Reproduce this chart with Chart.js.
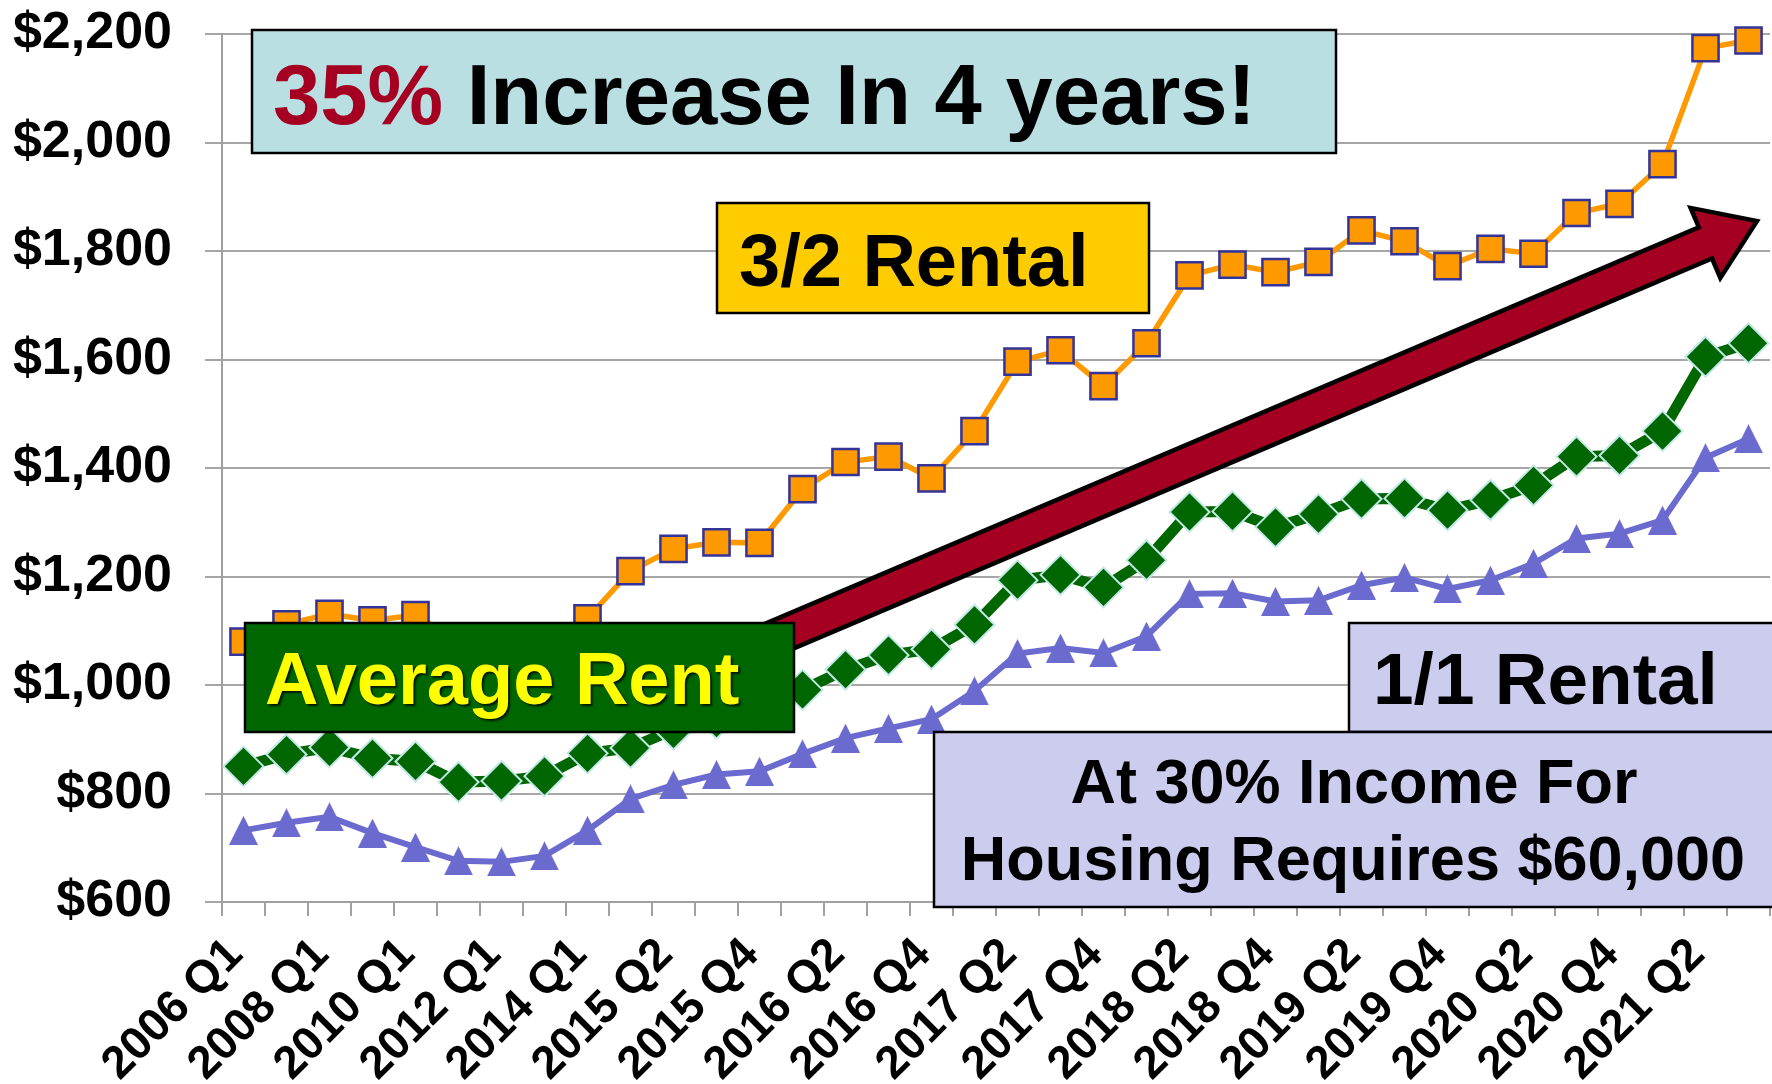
<!DOCTYPE html>
<html>
<head>
<meta charset="utf-8">
<title>Rent trend</title>
<script src="https://cdn.jsdelivr.net/npm/chart.js@4.4.0/dist/chart.umd.min.js"></script>
<style>
  html, body { margin: 0; padding: 0; background: #fff; overflow: hidden; }
  canvas { display: block; }
</style>
</head>
<body>
<canvas id="rentChart" width="1772" height="1084"></canvas>
<script>
// quarters on the x axis (only every other one gets a label)
const quarters = [
  '2006 Q1', '2007 Q1', '2008 Q1', '2009 Q1', '2010 Q1', '2011 Q1', '2012 Q1', '2013 Q1',
  '2014 Q1', '2015 Q1', '2015 Q2', '2015 Q3', '2015 Q4', '2016 Q1', '2016 Q2', '2016 Q3',
  '2016 Q4', '2017 Q1', '2017 Q2', '2017 Q3', '2017 Q4', '2018 Q1', '2018 Q2', '2018 Q3',
  '2018 Q4', '2019 Q1', '2019 Q2', '2019 Q3', '2019 Q4', '2020 Q1', '2020 Q2', '2020 Q3',
  '2020 Q4', '2021 Q1', '2021 Q2', '2021 Q3'
];

// monthly rent, 3 bed / 2 bath
const rent32 = [
  1080, 1112, 1131, 1119, 1129, 1080, 1060, 1070, 1123, 1210, 1251, 1263,
  1262, 1361, 1411, 1421, 1381, 1468, 1596, 1617, 1551, 1630, 1755, 1775,
  1761, 1780, 1838, 1818, 1772, 1804, 1795, 1870, 1887, 1960, 2174, 2188
];

// average rent across unit types
const rentAvg = [
  850, 872, 885, 865, 859, 821, 823, 832, 874, 884, 918, 938,
  950, 991, 1028, 1055, 1066, 1111, 1193, 1203, 1180, 1230, 1319, 1320,
  1291, 1315, 1343, 1344, 1322, 1341, 1368, 1421, 1423, 1468, 1605, 1630
];

// monthly rent, 1 bed / 1 bath
const rent11 = [
  732, 746, 757, 727, 701, 676, 674, 685, 732, 790, 816, 835,
  841, 873, 902, 920, 937, 989, 1058, 1068, 1059, 1090, 1168, 1169,
  1154, 1156, 1184, 1198, 1177, 1193, 1224, 1270, 1279, 1304, 1419, 1454
];

const yMin = 600, yMax = 2200, yStep = 200;

const FONT = '"Liberation Sans", Arial, Helvetica, sans-serif';

// tall triangle marker, like the spreadsheet one (centred on its box)
function triangleMarker(w, h, color) {
  const c = document.createElement('canvas');
  c.width = w;
  c.height = h;
  const g = c.getContext('2d');
  g.fillStyle = color;
  g.beginPath();
  g.moveTo(w / 2, 0);
  g.lineTo(w, h);
  g.lineTo(0, h);
  g.closePath();
  g.fill();
  return c;
}

function box(ctx, x, y, w, h, fill) {
  ctx.fillStyle = fill;
  ctx.fillRect(x, y, w, h);
  ctx.lineWidth = 2.5;
  ctx.strokeStyle = '#000';
  ctx.strokeRect(x, y, w, h);
}

function arrow(ctx, tail, tip, shaftHalf, headLen, headHalf) {
  const dx = tip.x - tail.x, dy = tip.y - tail.y;
  const len = Math.hypot(dx, dy);
  const ux = dx / len, uy = dy / len;
  const nx = -uy, ny = ux;
  const bx = tip.x - ux * headLen, by = tip.y - uy * headLen;
  ctx.beginPath();
  ctx.moveTo(tail.x + nx * shaftHalf, tail.y + ny * shaftHalf);
  ctx.lineTo(bx + nx * shaftHalf, by + ny * shaftHalf);
  ctx.lineTo(bx + nx * headHalf, by + ny * headHalf);
  ctx.lineTo(tip.x, tip.y);
  ctx.lineTo(bx - nx * headHalf, by - ny * headHalf);
  ctx.lineTo(bx - nx * shaftHalf, by - ny * shaftHalf);
  ctx.lineTo(tail.x - nx * shaftHalf, tail.y - ny * shaftHalf);
  ctx.closePath();
  ctx.fillStyle = '#a50021';
  ctx.fill();
  ctx.lineWidth = 4.5;
  ctx.lineJoin = 'miter';
  ctx.strokeStyle = '#000';
  ctx.stroke();
}

// callout boxes and the trend arrow on top of the plot
const callouts = {
  id: 'callouts',
  afterDraw(chart) {
    const ctx = chart.ctx;
    ctx.save();
    ctx.textBaseline = 'alphabetic';

    arrow(ctx, { x: 730, y: 657 }, { x: 1757, y: 221 }, 17, 56, 38);

    // headline
    box(ctx, 252, 30, 1084, 123, '#b9dfe3');
    ctx.font = 'bold 85px ' + FONT;
    ctx.textAlign = 'left';
    ctx.fillStyle = '#a50021';
    ctx.fillText('35%', 273, 124);
    const w = ctx.measureText('35%').width;
    ctx.fillStyle = '#000';
    ctx.fillText(' Increase In 4 years!', 273 + w, 124);

    // series names
    box(ctx, 717, 203, 432, 110, '#ffcc00');
    ctx.font = 'bold 74px ' + FONT;
    ctx.fillStyle = '#000';
    ctx.fillText('3/2 Rental', 739, 286);

    box(ctx, 245, 623, 549, 109, '#006600');
    ctx.save();
    ctx.shadowColor = 'rgba(0, 0, 0, 0.75)';
    ctx.shadowOffsetX = 2;
    ctx.shadowOffsetY = 2;
    ctx.shadowBlur = 2;
    ctx.fillStyle = '#ffff00';
    ctx.fillText('Average Rent', 265, 704);
    ctx.restore();

    box(ctx, 1349, 623, 430, 109, '#ccccee');
    ctx.font = 'bold 73px ' + FONT;
    ctx.fillStyle = '#000';
    ctx.fillText('1/1 Rental', 1373, 704);

    box(ctx, 934, 732, 845, 175, '#ccccee');
    ctx.font = 'bold 63px ' + FONT;
    ctx.textAlign = 'center';
    ctx.fillStyle = '#000';
    ctx.fillText('At 30% Income For', 1354, 803);
    ctx.fillText('Housing Requires $60,000', 1353, 880);

    ctx.restore();
  }
};

const ctx = document.getElementById('rentChart').getContext('2d');
const rentChart = new Chart(ctx, {
  type: 'line',
  data: {
    labels: quarters,
    datasets: [
      {
        label: '3/2 Rental',
        data: rent32,
        borderColor: '#ff9900',
        borderWidth: 5.5,
        pointStyle: 'rect',
        pointRadius: 18.5,
        pointBackgroundColor: '#ff9900',
        pointBorderColor: '#333399',
        pointBorderWidth: 2.5,
        clip: false
      },
      {
        label: 'Average Rent',
        data: rentAvg,
        borderColor: '#006600',
        borderWidth: 11,
        pointStyle: 'rectRot',
        pointRadius: 20,
        pointBackgroundColor: '#006600',
        pointBorderColor: '#c4e8e8',
        pointBorderWidth: 2,
        clip: false
      },
      {
        label: '1/1 Rental',
        data: rent11,
        borderColor: '#6b6bcf',
        borderWidth: 6,
        pointStyle: triangleMarker(29, 29, '#6b6bcf'),
        pointRadius: 14.5,
        clip: false
      }
    ]
  },
  options: {
    responsive: false,
    animation: false,
    events: [],
    layout: { autoPadding: false, padding: { top: 34, right: 2, left: 0, bottom: 0 } },
    elements: { line: { tension: 0 } },
    plugins: {
      legend: { display: false },
      tooltip: { enabled: false }
    },
    scales: {
      x: {
        offset: true,
        grid: { offset: true, drawOnChartArea: false, tickLength: 14, color: '#a0a0a0', lineWidth: 2 },
        border: { color: '#a0a0a0', width: 2 },
        ticks: {
          autoSkip: false,
          minRotation: 45,
          maxRotation: 45,
          padding: 12,
          labelOffset: -8,
          color: '#000',
          font: { family: FONT, size: 46, weight: 'bold' },
          callback: (value, index) => (index % 2 === 0 ? quarters[index] : '')
        },
        afterFit: (scale) => {
          scale.height = 182;
          scale.paddingLeft = 0;
          scale.paddingRight = 0;
        }
      },
      y: {
        min: yMin,
        max: yMax,
        grid: { color: '#a6a6a6', lineWidth: 2, tickLength: 17 },
        border: { color: '#a0a0a0', width: 2 },
        ticks: {
          stepSize: yStep,
          padding: 33,
          color: '#000',
          font: { family: FONT, size: 52, weight: 'bold' },
          callback: (value) => '$' + value.toLocaleString('en-US')
        },
        afterFit: (scale) => {
          scale.width = 222;
          scale.paddingTop = 0;
          scale.paddingBottom = 0;
        }
      }
    }
  },
  plugins: [callouts]
});
</script>
</body>
</html>
